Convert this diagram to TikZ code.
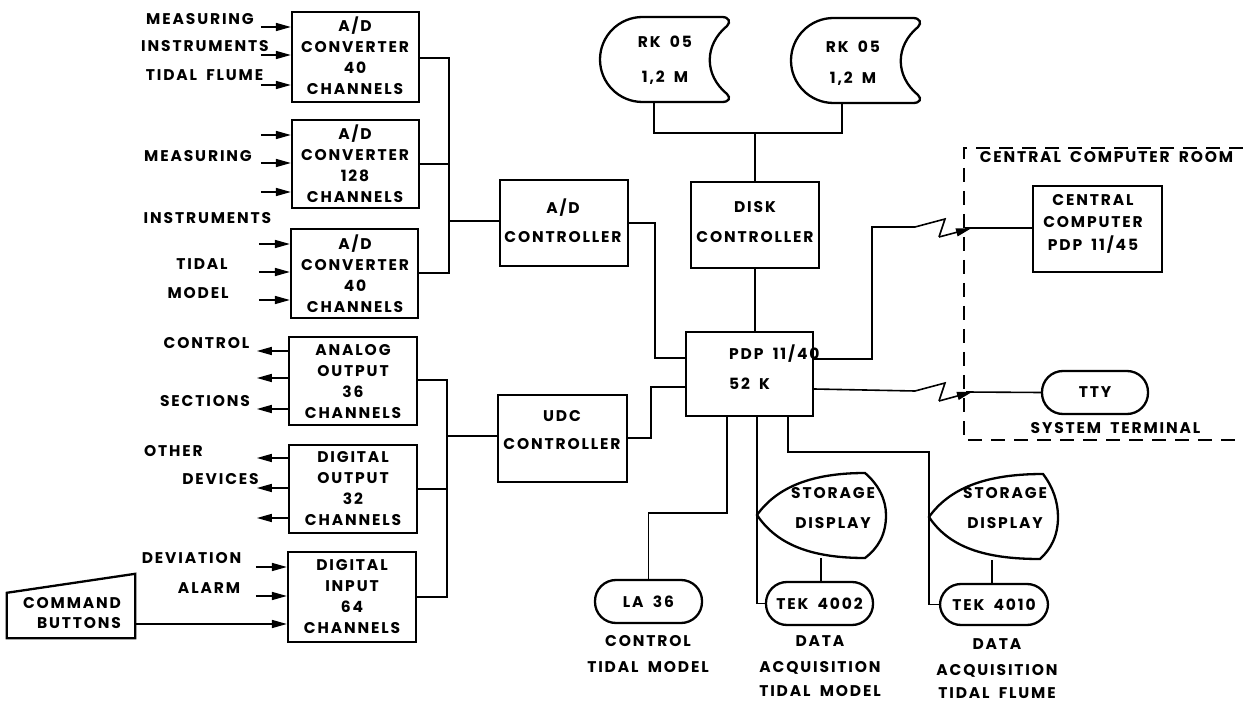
\documentclass[tikz,border=0pt]{standalone}
\usepackage{fontspec}
\setmainfont{Poppins}[LetterSpace=12, WordSpace=1.8]
\usetikzlibrary{arrows.meta}
\newcommand\lblfont{\fontsize{15.5}{21}\selectfont\bfseries}
\begin{document}
\begin{tikzpicture}[x=1pt,y=-1pt,
  box/.style={draw, line width=2.3pt, inner sep=0pt},
  txt/.style={font=\lblfont, align=center, inner sep=0pt},
  wire/.style={line width=1.6pt},
  arr/.style={wire, -{Triangle[length=15pt,width=8pt]}},
  pill/.style={box, rounded corners=21pt, font=\lblfont},
  dashline/.style={line width=1.6pt, dash pattern=on 14pt off 9pt},
]
\useasboundingbox (0,0) rectangle (1243,703);

% ---------- A/D converters ----------
\node[box, minimum width=127pt, minimum height=90pt] (adc1) at (355.5,57) {};
\node[txt] (adc1t) at (355,56) {A/D\\CONVERTER\\40\\CHANNELS};
\node[box, minimum width=127pt, minimum height=88pt] (adc2) at (355.5,164) {};
\node[txt] (adc2t) at (355,164) {A/D\\CONVERTER\\128\\CHANNELS};
\node[box, minimum width=127pt, minimum height=89pt] (adc3) at (354.5,273.5) {};
\node[txt] (adc3t) at (355,274) {A/D\\CONVERTER\\40\\CHANNELS};

% ---------- output / input boxes ----------
\node[box, minimum width=128pt, minimum height=88pt] (aout) at (353,381) {};
\node[txt] (aoutt) at (353,381.5) {ANALOG\\OUTPUT\\36\\CHANNELS};
\node[box, minimum width=128pt, minimum height=88pt] (dout) at (353,489) {};
\node[txt] (doutt) at (353,488.5) {DIGITAL\\OUTPUT\\32\\CHANNELS};
\node[box, minimum width=128pt, minimum height=90pt] (din) at (352,597) {};
\node[txt] (dint) at (352,596.5) {DIGITAL\\INPUT\\64\\CHANNELS};

% ---------- controllers ----------
\node[box, minimum width=128pt, minimum height=86pt] (adctl) at (564,223) {};
\node[txt] (adctlt) at (563,220.5) {A/D\\[8pt]CONTROLLER};
\node[box, minimum width=129pt, minimum height=87pt] (udc) at (562.5,438.5) {};
\node[txt] (udct) at (562,430) {UDC\\[7pt]CONTROLLER};
\node[box, minimum width=128pt, minimum height=86pt] (dskc) at (755,225) {};
\node[txt] (dskct) at (755,222) {DISK\\[9pt]CONTROLLER};

% ---------- PDP 11/40 ----------
\node[box, minimum width=127pt, minimum height=84pt] (pdp) at (749.5,374) {};
\node[txt, align=left, anchor=west] (pdpt) at (729,367) {PDP 11/40\\[9pt]52 K};

% ---------- central computer room ----------
\node[box, minimum width=129pt, minimum height=86pt] (cc) at (1097.5,229) {};
\node[txt] (cct) at (1093,223.5) {CENTRAL\\[1.5pt]COMPUTER\\[1.5pt]PDP 11/45};
\node[pill, minimum width=106pt, minimum height=43pt] (tty) at (1095,392.5) {TTY};
\node[txt] (ccroom) at (1106.5,157) {CENTRAL COMPUTER ROOM};
\node[txt] (systerm) at (1115.5,428) {SYSTEM TERMINAL};
\draw[dashline] (1243,148) -- (964,148) -- (964,440) -- (1240,440);

% ---------- disks ----------
\begin{scope}[shift={(600,17)}]
\draw[line width=2.3pt] (42.5,0) -- (122,0) .. controls (129,0) and (131,5) .. (127,9)
  .. controls (104,28) and (104,58) .. (127,77) .. controls (131,81) and (129,85) .. (122,85)
  -- (42.5,85) .. controls (19,85) and (0,66) .. (0,42.5) .. controls (0,19) and (19,0) .. (42.5,0) -- cycle;
\end{scope}
\begin{scope}[shift={(791,18)}]
\draw[line width=2.3pt] (42.5,0) -- (122,0) .. controls (129,0) and (131,5) .. (127,9)
  .. controls (104,28) and (104,58) .. (127,77) .. controls (131,81) and (129,85) .. (122,85)
  -- (42.5,85) .. controls (19,85) and (0,66) .. (0,42.5) .. controls (0,19) and (19,0) .. (42.5,0) -- cycle;
\end{scope}
\node[txt] (rk1t) at (665,60.5) {RK 05\\[14pt]1,2 M};
\node[txt] (rk2t) at (853,63.5) {RK 05\\[10pt]1,2 M};
\coordinate (rk1b) at (654,102);
\coordinate (rk2b) at (842,103);

% ---------- storage displays ----------
\begin{scope}[shift={(757,515)}]
\draw[line width=2.3pt] (0,0) .. controls (20,-28) and (55,-42) .. (108,-42)
  .. controls (122,-30) and (129,-15) .. (129,0) .. controls (129,20) and (121,33) .. (108,43)
  .. controls (55,43) and (20,30) .. (0,0) -- cycle;
\end{scope}
\begin{scope}[shift={(929,517)}]
\draw[line width=2.3pt] (0,0) .. controls (20,-28) and (55,-43) .. (114,-43)
  .. controls (124,-30) and (129,-15) .. (129,0) .. controls (129,20) and (121,33) .. (111,42)
  .. controls (55,42) and (20,30) .. (0,0) -- cycle;
\end{scope}
\node[txt] (sd1t) at (833,508) {STORAGE\\[9pt]DISPLAY};
\node[txt] (sd2t) at (1005,508) {STORAGE\\[9pt]DISPLAY};
\coordinate (sd1b) at (821,558);
\coordinate (sd2b) at (992,560);

% ---------- terminals ----------
\node[pill, minimum width=107pt, minimum height=43pt] (la36) at (648.5,601.5) {LA 36};
\node[pill, minimum width=107pt, minimum height=43pt] (tek2) at (819.5,603.5) {TEK 4002};
\node[pill, minimum width=108pt, minimum height=41pt] (tek4) at (994,604.5) {TEK 4010};
\node[txt] (la36l) at (648,654) {CONTROL\\[5pt]TIDAL MODEL};
\node[txt] (tek2l) at (820,666.5) {DATA\\[5pt]ACQUISITION\\[3pt]TIDAL MODEL};
\node[txt] (tek4l) at (997,668.5) {DATA\\[5pt]ACQUISITION\\[2pt]TIDAL FLUME};

% ---------- command buttons ----------
\node[inner sep=0pt, minimum width=128pt, minimum height=64pt] (cmd) at (71,606) {};
\draw[line width=2.3pt] (cmd.south west) -- (cmd.south east) -- (cmd.north east) -- ([yshift=-19pt]cmd.north west) -- cycle;
\node[txt] (cmdt) at (72,613) {COMMAND\\[-1pt]\hspace*{14pt}BUTTONS};

% ---------- side labels ----------
\node[txt] (l1) at (200,19) {MEASURING};
\node[txt] (l2) at (205,46) {INSTRUMENTS};
\node[txt] (l3) at (204.5,75) {TIDAL FLUME};
\node[txt] (l4) at (198,156) {MEASURING};
\node[txt] (l5) at (207.5,218) {INSTRUMENTS};
\node[txt] (l6) at (202,264) {TIDAL};
\node[txt] (l7) at (198,293) {MODEL};
\node[txt] (l8) at (206.5,343) {CONTROL};
\node[txt] (l9) at (205,401) {SECTIONS};
\node[txt] (l10) at (173.5,451) {OTHER};
\node[txt] (l11) at (220.5,479) {DEVICES};
\node[txt] (l12) at (191.5,558) {DEVIATION};
\node[txt] (l13) at (209,588) {ALARM};

% ---------- input / output arrows ----------
\foreach \y in {27,55,85} \draw[arr] (adc1.west |- 0,\y) ++(-30,0) -- (adc1.west |- 0,\y);
\foreach \y in {135,163,192} \draw[arr] (adc2.west |- 0,\y) ++(-30,0) -- (adc2.west |- 0,\y);
\foreach \y in {244,272,300} \draw[arr] (adc3.west |- 0,\y) ++(-31,0) -- (adc3.west |- 0,\y);
\foreach \y in {351,378,409} \draw[arr] (aout.west |- 0,\y) -- ++(-31,0);
\foreach \y in {458,488,518} \draw[arr] (dout.west |- 0,\y) -- ++(-31,0);
\foreach \y in {567,596} \draw[arr] (din.west |- 0,\y) ++(-31,0) -- (din.west |- 0,\y);
\draw[arr] (cmd.east |- 0,624) -- (din.west |- 0,624);

% ---------- A/D bus ----------
\coordinate (busA1) at (449,58);
\coordinate (busA3) at (449,273);
\draw[wire] (adc1.east |- busA1) -- (busA1) -- (busA3) -- (adc3.east |- busA3);
\draw[wire] (adc2.east) -- (adc2.east -| busA1);
\draw[wire] (adctl.west |- 0,221) -- (busA1 |- 0,221);

% ---------- UDC bus ----------
\coordinate (busB1) at (447,380);
\coordinate (busB3) at (447,597);
\draw[wire] (aout.east |- busB1) -- (busB1) -- (busB3) -- (din.east |- busB3);
\draw[wire] (dout.east) -- (dout.east -| busB1);
\draw[wire] (udc.west |- 0,436) -- (busB1 |- 0,436);

% ---------- controllers to PDP ----------
\draw[wire] (adctl.east) -- (655,223) |- (pdp.west |- 0,358);
\draw[wire] (udc.east |- 0,438) -- (651,438) |- (pdp.west |- 0,387);
\draw[wire] (dskc.south) -- (dskc.south |- pdp.north);
\draw[wire] (rk1b) -- (rk1b |- 0,133) -- (rk2b |- 0,133) -- (rk2b);
\draw[wire] (dskc.north) -- (dskc.north |- 0,133);

% ---------- PDP to central computer room ----------
\draw[wire] (pdp.east |- 0,359) -| (872,227) -- (915,227) -- (945,219) -- (939,237);
\draw[arr] (939,237) -- (971,228.5);
\draw[wire] (965,228) -- (cc.west |- 0,228);
\draw[wire] (pdp.east |- 0,389) -- (915,391) -- (945,383) -- (939,401);
\draw[arr] (939,401) -- (972,392);
\draw[wire] (966,392) -- (tty.west);

% ---------- PDP to terminals ----------
\draw[wire] (pdp.south -| 727,0) |- (la36.north |- 0,513) -- (la36.north);
\draw[wire] (pdp.south -| 757,0) |- (tek2.west);
\draw[wire] (sd1b) -- (tek2.north -| sd1b);
\draw[wire] (pdp.south -| 788,0) |- (929,452) |- (tek4.west);
\draw[wire] (sd2b) -- (tek4.north -| sd2b);
\end{tikzpicture}
\end{document}
